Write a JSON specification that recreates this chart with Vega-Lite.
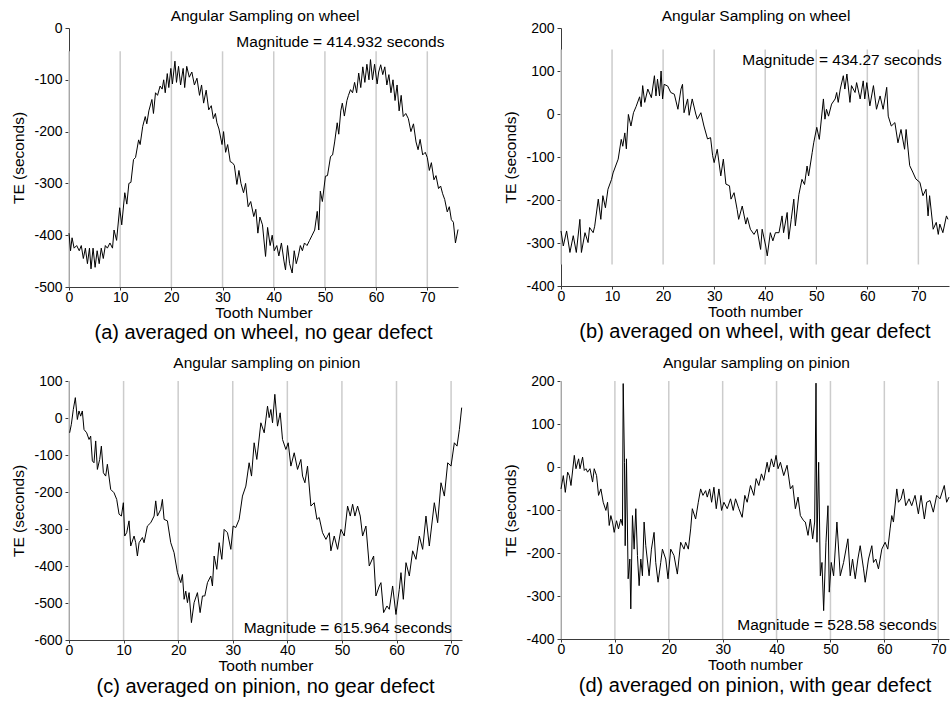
{
"$schema": "https://vega.github.io/schema/vega-lite/v6.json",
"background": "white",
"padding": {"left": 11, "top": 8, "right": 0, "bottom": 0},
"columns": 2,
"spacing": {"row": 12, "column": 39},
"concat": [
{
 "title": {"text": "Angular Sampling on wheel", "anchor": "middle", "dx": 29, "fontSize": 15.5, "offset": -3},
 "vconcat": [{
  "width": 389, "height": 259,
  "title": {"text": "(a) averaged on wheel, no gear defect", "orient": "bottom", "anchor": "middle", "frame": "group", "fontSize": 20, "offset": 2},
  "encoding": {
   "x": {"field": "x", "type": "quantitative", "scale": {"domain": [0, 76], "nice": false, "zero": false}, "axis": {"title": "Tooth Number", "values": [0,10,20,30,40,50,60,70]}},
   "y": {"field": "y", "type": "quantitative", "scale": {"domain": [-500, 0], "nice": false, "zero": false}, "axis": {"title": "TE (seconds)", "values": [-500,-400,-300,-200,-100,0]}}
  },
  "layer": [
   {"data": {"name": "ra"}, "mark": {"type": "rule", "color": "#cccccc", "strokeWidth": 1.5}, "encoding": {"y2": {"field": "y2"}}},
   {"data": {"name": "a"}, "mark": {"type": "line", "color": "#000000", "strokeWidth": 1}, "encoding": {}},
   {"data": {"values": [{"x": 32.7, "y": -27, "label": "Magnitude = 414.932 seconds"}]}, "mark": {"type": "text", "align": "left", "baseline": "middle", "fontSize": 15.5}, "encoding": {"text": {"field": "label"}}}
  ]
 }]
},
{
 "title": {"text": "Angular Sampling on wheel", "anchor": "middle", "dx": 29, "fontSize": 15.5, "offset": -3},
 "vconcat": [{
  "width": 388, "height": 258,
  "title": {"text": "(b) averaged on wheel, with gear defect", "orient": "bottom", "anchor": "middle", "frame": "group", "fontSize": 20, "offset": 2},
  "encoding": {
   "x": {"field": "x", "type": "quantitative", "scale": {"domain": [0, 76], "nice": false, "zero": false}, "axis": {"title": "Tooth number", "values": [0,10,20,30,40,50,60,70]}},
   "y": {"field": "y", "type": "quantitative", "scale": {"domain": [-400, 200], "nice": false, "zero": false}, "axis": {"title": "TE  (seconds)", "values": [-400,-300,-200,-100,0,100,200]}}
  },
  "layer": [
   {"data": {"name": "rb"}, "mark": {"type": "rule", "color": "#cccccc", "strokeWidth": 1.5}, "encoding": {"y2": {"field": "y2"}}},
   {"data": {"name": "b"}, "mark": {"type": "line", "color": "#000000", "strokeWidth": 1}, "encoding": {}},
   {"data": {"values": [{"x": 35.5, "y": 125.5, "label": "Magnitude = 434.27 seconds"}]}, "mark": {"type": "text", "align": "left", "baseline": "middle", "fontSize": 15.5}, "encoding": {"text": {"field": "label"}}}
  ]
 }]
},
{
 "title": {"text": "Angular sampling on pinion", "anchor": "middle", "dx": 29, "fontSize": 15.5, "offset": 3},
 "vconcat": [{
  "width": 393, "height": 259,
  "title": {"text": "(c) averaged on pinion, no gear defect", "orient": "bottom", "anchor": "middle", "frame": "group", "fontSize": 20, "offset": 3},
  "encoding": {
   "x": {"field": "x", "type": "quantitative", "scale": {"domain": [0, 72], "nice": false, "zero": false}, "axis": {"title": "Tooth number", "values": [0,10,20,30,40,50,60,70]}},
   "y": {"field": "y", "type": "quantitative", "scale": {"domain": [-600, 100], "nice": false, "zero": false}, "axis": {"title": "TE  (seconds)", "values": [-600,-500,-400,-300,-200,-100,0,100]}}
  },
  "layer": [
   {"data": {"name": "rc"}, "mark": {"type": "rule", "color": "#cccccc", "strokeWidth": 1.5}, "encoding": {"y2": {"field": "y2"}}},
   {"data": {"name": "c"}, "mark": {"type": "line", "color": "#000000", "strokeWidth": 1}, "encoding": {}},
   {"data": {"values": [{"x": 32.0, "y": -567, "label": "Magnitude = 615.964 seconds"}]}, "mark": {"type": "text", "align": "left", "baseline": "middle", "fontSize": 15.5}, "encoding": {"text": {"field": "label"}}}
  ]
 }]
},
{
 "title": {"text": "Angular sampling on pinion", "anchor": "middle", "dx": 29, "fontSize": 15.5, "offset": 3},
 "vconcat": [{
  "width": 388, "height": 258,
  "title": {"text": "(d) averaged on pinion, with gear defect", "orient": "bottom", "anchor": "middle", "frame": "group", "fontSize": 20, "offset": 3},
  "encoding": {
   "x": {"field": "x", "type": "quantitative", "scale": {"domain": [0, 72], "nice": false, "zero": false}, "axis": {"title": "Tooth number", "values": [0,10,20,30,40,50,60,70]}},
   "y": {"field": "y", "type": "quantitative", "scale": {"domain": [-400, 200], "nice": false, "zero": false}, "axis": {"title": "TE  (seconds)", "values": [-400,-300,-200,-100,0,100,200]}}
  },
  "layer": [
   {"data": {"name": "rd"}, "mark": {"type": "rule", "color": "#cccccc", "strokeWidth": 1.5}, "encoding": {"y2": {"field": "y2"}}},
   {"data": {"name": "d"}, "mark": {"type": "line", "color": "#000000", "strokeWidth": 1}, "encoding": {}},
   {"data": {"values": [{"x": 32.7, "y": -367, "label": "Magnitude = 528.58 seconds"}]}, "mark": {"type": "text", "align": "left", "baseline": "middle", "fontSize": 15.5}, "encoding": {"text": {"field": "label"}}}
  ]
 }]
}
],
"datasets": {
"ra": [{"x":0,"y":-500,"y2":-45},{"x":10,"y":-500,"y2":-45},{"x":20,"y":-500,"y2":-45},{"x":30,"y":-500,"y2":-45},{"x":40,"y":-500,"y2":-45},{"x":50,"y":-500,"y2":-45},{"x":60,"y":-500,"y2":-45},{"x":70,"y":-500,"y2":-45}],
"rb": [{"x":0,"y":-350,"y2":150},{"x":10,"y":-350,"y2":150},{"x":20,"y":-350,"y2":150},{"x":30,"y":-350,"y2":150},{"x":40,"y":-350,"y2":150},{"x":50,"y":-350,"y2":150},{"x":60,"y":-350,"y2":150},{"x":70,"y":-350,"y2":150}],
"rc": [{"x":0,"y":-600,"y2":100},{"x":10,"y":-600,"y2":100},{"x":20,"y":-600,"y2":100},{"x":30,"y":-600,"y2":100},{"x":40,"y":-600,"y2":100},{"x":50,"y":-600,"y2":100},{"x":60,"y":-600,"y2":100},{"x":70,"y":-600,"y2":100}],
"rd": [{"x":0,"y":-400,"y2":200},{"x":10,"y":-400,"y2":200},{"x":20,"y":-400,"y2":200},{"x":30,"y":-400,"y2":200},{"x":40,"y":-400,"y2":200},{"x":50,"y":-400,"y2":200},{"x":60,"y":-400,"y2":200},{"x":70,"y":-400,"y2":200}],
"a": [
{"x":0,"y":-396},{"x":0.3,"y":-430},{"x":0.6,"y":-405},{"x":1,"y":-425},{"x":1.5,"y":-420},{"x":2,"y":-430},{"x":2.4,"y":-420},{"x":2.8,"y":-445},{"x":3.2,"y":-425},{"x":3.6,"y":-455},{"x":4.0,"y":-425},{"x":4.3,"y":-465},{"x":4.7,"y":-425},{"x":5.1,"y":-462},{"x":5.5,"y":-430},{"x":5.9,"y":-455},{"x":6.3,"y":-425},{"x":6.7,"y":-445},{"x":7.1,"y":-420},{"x":7.5,"y":-425},{"x":8.0,"y":-415},{"x":8.5,"y":-425},{"x":8.8,"y":-390},{"x":9.3,"y":-410},{"x":9.9,"y":-347},{"x":10.3,"y":-380},{"x":10.9,"y":-318},{"x":11.3,"y":-340},{"x":11.7,"y":-300},{"x":12.1,"y":-298},{"x":12.6,"y":-254},{"x":13.0,"y":-250},{"x":13.6,"y":-216},{"x":13.9,"y":-225},{"x":14.4,"y":-190},{"x":14.9,"y":-171},{"x":15.2,"y":-185},{"x":15.6,"y":-160},{"x":16.2,"y":-138},{"x":16.5,"y":-165},{"x":16.9,"y":-125},{"x":17.3,"y":-130},{"x":17.8,"y":-112},{"x":18.2,"y":-118},{"x":18.5,"y":-100},{"x":18.8,"y":-125},{"x":19.2,"y":-88},{"x":19.5,"y":-115},{"x":19.9,"y":-78},{"x":20.2,"y":-108},{"x":20.7,"y":-64},{"x":21.0,"y":-105},{"x":21.4,"y":-74},{"x":21.8,"y":-110},{"x":22.3,"y":-78},{"x":22.6,"y":-115},{"x":23.0,"y":-74},{"x":23.5,"y":-95},{"x":24.0,"y":-85},{"x":24.5,"y":-110},{"x":25.0,"y":-97},{"x":25.5,"y":-130},{"x":25.9,"y":-110},{"x":26.3,"y":-145},{"x":26.8,"y":-120},{"x":27.3,"y":-158},{"x":27.8,"y":-150},{"x":28.2,"y":-175},{"x":28.6,"y":-165},{"x":28.9,"y":-183},{"x":29.3,"y":-195},{"x":29.9,"y":-225},{"x":30.2,"y":-200},{"x":30.6,"y":-240},{"x":31.0,"y":-225},{"x":31.5,"y":-258},{"x":31.9,"y":-260},{"x":32.3,"y":-265},{"x":32.8,"y":-302},{"x":33.2,"y":-275},{"x":33.6,"y":-300},{"x":34.1,"y":-318},{"x":34.5,"y":-300},{"x":35.0,"y":-345},{"x":35.5,"y":-335},{"x":36.1,"y":-364},{"x":36.5,"y":-350},{"x":36.9,"y":-396},{"x":37.3,"y":-365},{"x":37.8,"y":-380},{"x":38.4,"y":-441},{"x":38.8,"y":-385},{"x":39.3,"y":-420},{"x":39.7,"y":-400},{"x":40.1,"y":-430},{"x":40.6,"y":-420},{"x":41.0,"y":-440},{"x":41.5,"y":-415},{"x":42.0,"y":-450},{"x":42.3,"y":-467},{"x":42.7,"y":-420},{"x":43.1,"y":-455},{"x":43.6,"y":-473},{"x":44.0,"y":-430},{"x":44.4,"y":-455},{"x":44.8,"y":-440},{"x":45.2,"y":-420},{"x":45.6,"y":-430},{"x":46.0,"y":-415},{"x":46.5,"y":-420},{"x":47.0,"y":-410},{"x":47.5,"y":-400},{"x":48.0,"y":-390},{"x":48.5,"y":-354},{"x":48.8,"y":-390},{"x":49.1,"y":-315},{"x":49.5,"y":-335},{"x":50.1,"y":-286},{"x":50.5,"y":-285},{"x":51.1,"y":-248},{"x":51.5,"y":-245},{"x":51.9,"y":-220},{"x":52.4,"y":-183},{"x":52.7,"y":-205},{"x":53.1,"y":-160},{"x":53.4,"y":-145},{"x":53.8,"y":-170},{"x":54.3,"y":-140},{"x":54.6,"y":-130},{"x":55.0,"y":-119},{"x":55.4,"y":-125},{"x":55.8,"y":-105},{"x":56.2,"y":-125},{"x":56.6,"y":-87},{"x":57.0,"y":-115},{"x":57.4,"y":-75},{"x":57.8,"y":-105},{"x":58.2,"y":-70},{"x":58.6,"y":-100},{"x":58.9,"y":-61},{"x":59.3,"y":-100},{"x":59.7,"y":-70},{"x":60.2,"y":-108},{"x":60.5,"y":-85},{"x":60.9,"y":-71},{"x":61.3,"y":-90},{"x":61.7,"y":-75},{"x":62.1,"y":-110},{"x":62.5,"y":-90},{"x":62.9,"y":-125},{"x":63.3,"y":-100},{"x":63.7,"y":-140},{"x":64.1,"y":-110},{"x":64.5,"y":-160},{"x":64.9,"y":-130},{"x":65.3,"y":-171},{"x":65.8,"y":-165},{"x":66.3,"y":-175},{"x":66.8,"y":-200},{"x":67.3,"y":-185},{"x":67.8,"y":-220},{"x":68.2,"y":-235},{"x":68.6,"y":-215},{"x":69.1,"y":-245},{"x":69.6,"y":-240},{"x":70.0,"y":-250},{"x":70.4,"y":-275},{"x":70.8,"y":-260},{"x":71.3,"y":-293},{"x":71.7,"y":-285},{"x":72.2,"y":-310},{"x":72.6,"y":-305},{"x":73.0,"y":-320},{"x":73.4,"y":-331},{"x":73.9,"y":-355},{"x":74.3,"y":-345},{"x":74.7,"y":-370},{"x":75.1,"y":-375},{"x":75.5,"y":-415},{"x":76.0,"y":-389}
],
"b": [
{"x":0,"y":-272},{"x":0.45,"y":-307},{"x":1.1,"y":-272},{"x":1.75,"y":-322},{"x":2.4,"y":-283},{"x":3.0,"y":-322},{"x":3.7,"y":-245},{"x":4.0,"y":-322},{"x":4.7,"y":-276},{"x":5.3,"y":-299},{"x":5.6,"y":-264},{"x":6.3,"y":-276},{"x":6.6,"y":-261},{"x":7.3,"y":-198},{"x":7.8,"y":-245},{"x":8.2,"y":-190},{"x":8.7,"y":-218},{"x":9.2,"y":-175},{"x":9.9,"y":-152},{"x":10.2,"y":-137},{"x":11.2,"y":-105},{"x":11.8,"y":-59},{"x":12.1,"y":-75},{"x":12.5,"y":-44},{"x":12.8,"y":-81},{"x":13.2,"y":-1},{"x":13.7,"y":-28},{"x":14.2,"y":3},{"x":14.7,"y":17},{"x":15.4,"y":40},{"x":15.7,"y":17},{"x":16.0,"y":66},{"x":16.4,"y":27},{"x":17.0,"y":58},{"x":17.7,"y":38},{"x":18.3,"y":89},{"x":18.6,"y":42},{"x":18.9,"y":81},{"x":19.3,"y":42},{"x":19.6,"y":100},{"x":19.9,"y":35},{"x":20.2,"y":69},{"x":20.9,"y":65},{"x":21.5,"y":50},{"x":22.2,"y":46},{"x":22.9,"y":11},{"x":23.5,"y":58},{"x":23.8,"y":69},{"x":24.1,"y":3},{"x":24.8,"y":35},{"x":25.1,"y":-3},{"x":25.7,"y":35},{"x":26.4,"y":0},{"x":26.7,"y":-12},{"x":27.4,"y":3},{"x":28.0,"y":-28},{"x":28.7,"y":-58},{"x":29.3,"y":-55},{"x":29.7,"y":-97},{"x":30.0,"y":-113},{"x":30.6,"y":-82},{"x":31.3,"y":-144},{"x":31.8,"y":-105},{"x":32.3,"y":-163},{"x":33.0,"y":-167},{"x":33.3,"y":-198},{"x":33.9,"y":-183},{"x":34.5,"y":-222},{"x":34.8,"y":-245},{"x":35.5,"y":-214},{"x":36.2,"y":-256},{"x":36.5,"y":-241},{"x":37.1,"y":-268},{"x":37.8,"y":-280},{"x":38.4,"y":-268},{"x":39.1,"y":-315},{"x":39.4,"y":-268},{"x":40.1,"y":-307},{"x":40.4,"y":-330},{"x":41.0,"y":-276},{"x":41.5,"y":-295},{"x":42.0,"y":-276},{"x":42.7,"y":-276},{"x":43.3,"y":-237},{"x":43.6,"y":-276},{"x":44.3,"y":-229},{"x":44.6,"y":-291},{"x":45.1,"y":-245},{"x":45.6,"y":-198},{"x":45.9,"y":-260},{"x":46.6,"y":-187},{"x":47.2,"y":-152},{"x":47.7,"y":-164},{"x":48.2,"y":-121},{"x":48.5,"y":-144},{"x":49.2,"y":-90},{"x":49.5,"y":-67},{"x":50.1,"y":-31},{"x":50.6,"y":-59},{"x":51.1,"y":0},{"x":51.4,"y":35},{"x":51.7,"y":-12},{"x":52.0,"y":11},{"x":52.4,"y":-5},{"x":53.0,"y":23},{"x":53.7,"y":35},{"x":54.0,"y":50},{"x":54.3,"y":27},{"x":54.7,"y":58},{"x":55.3,"y":89},{"x":55.6,"y":58},{"x":56.0,"y":93},{"x":56.6,"y":27},{"x":56.9,"y":66},{"x":57.6,"y":50},{"x":57.9,"y":73},{"x":58.6,"y":35},{"x":59.2,"y":77},{"x":59.5,"y":35},{"x":59.9,"y":73},{"x":60.5,"y":19},{"x":61.2,"y":66},{"x":61.8,"y":11},{"x":62.5,"y":42},{"x":63.1,"y":11},{"x":63.8,"y":62},{"x":64.1,"y":-5},{"x":64.7,"y":-28},{"x":65.4,"y":-20},{"x":66.0,"y":-67},{"x":66.6,"y":-36},{"x":67.3,"y":-82},{"x":67.6,"y":-36},{"x":68.3,"y":-120},{"x":68.9,"y":-135},{"x":69.5,"y":-151},{"x":70.3,"y":-159},{"x":70.9,"y":-190},{"x":71.5,"y":-175},{"x":71.9,"y":-237},{"x":72.2,"y":-190},{"x":72.9,"y":-268},{"x":73.5,"y":-252},{"x":73.9,"y":-280},{"x":74.2,"y":-256},{"x":74.8,"y":-276},{"x":75.5,"y":-237},{"x":75.8,"y":-245}
],
"c": [
{"x":0.12,"y":-40},{"x":0.43,"y":-17},{"x":0.79,"y":23},{"x":1.16,"y":55},{"x":1.53,"y":-4},{"x":1.83,"y":19},{"x":2.14,"y":5},{"x":2.44,"y":19},{"x":2.75,"y":-31},{"x":3.24,"y":-40},{"x":3.67,"y":-58},{"x":3.97,"y":-49},{"x":4.28,"y":-116},{"x":4.58,"y":-121},{"x":4.89,"y":-62},{"x":5.2,"y":-139},{"x":5.62,"y":-112},{"x":5.93,"y":-76},{"x":6.3,"y":-148},{"x":6.72,"y":-157},{"x":7.03,"y":-125},{"x":7.64,"y":-193},{"x":8.25,"y":-202},{"x":8.74,"y":-220},{"x":9.17,"y":-260},{"x":9.6,"y":-265},{"x":9.96,"y":-229},{"x":10.21,"y":-319},{"x":10.57,"y":-310},{"x":11.0,"y":-278},{"x":11.31,"y":-346},{"x":11.92,"y":-319},{"x":12.22,"y":-337},{"x":12.53,"y":-373},{"x":12.84,"y":-337},{"x":13.45,"y":-323},{"x":13.75,"y":-337},{"x":14.36,"y":-292},{"x":14.98,"y":-283},{"x":15.59,"y":-265},{"x":15.89,"y":-224},{"x":16.2,"y":-265},{"x":16.81,"y":-247},{"x":17.11,"y":-220},{"x":17.42,"y":-274},{"x":18.03,"y":-278},{"x":18.64,"y":-337},{"x":19.25,"y":-364},{"x":19.87,"y":-418},{"x":20.48,"y":-445},{"x":20.78,"y":-423},{"x":21.09,"y":-490},{"x":21.39,"y":-468},{"x":21.7,"y":-499},{"x":22.0,"y":-472},{"x":22.43,"y":-553},{"x":22.92,"y":-499},{"x":23.53,"y":-472},{"x":24.02,"y":-526},{"x":24.45,"y":-481},{"x":24.88,"y":-481},{"x":25.37,"y":-445},{"x":25.98,"y":-427},{"x":26.28,"y":-454},{"x":26.59,"y":-373},{"x":27.08,"y":-409},{"x":27.51,"y":-337},{"x":28.0,"y":-382},{"x":28.42,"y":-301},{"x":29.03,"y":-310},{"x":29.65,"y":-355},{"x":30.07,"y":-292},{"x":30.56,"y":-296},{"x":31.17,"y":-274},{"x":31.78,"y":-211},{"x":32.4,"y":-184},{"x":33.0,"y":-121},{"x":33.44,"y":-157},{"x":33.92,"y":-67},{"x":34.41,"y":-112},{"x":35.15,"y":-13},{"x":35.76,"y":-40},{"x":36.37,"y":32},{"x":36.67,"y":1},{"x":36.98,"y":23},{"x":37.29,"y":-13},{"x":37.71,"y":64},{"x":38.2,"y":-22},{"x":38.69,"y":14},{"x":39.12,"y":-58},{"x":39.73,"y":-85},{"x":40.16,"y":-67},{"x":40.65,"y":-130},{"x":41.26,"y":-94},{"x":41.87,"y":-139},{"x":42.48,"y":-112},{"x":42.79,"y":-157},{"x":43.22,"y":-175},{"x":43.7,"y":-130},{"x":44.32,"y":-238},{"x":44.93,"y":-229},{"x":45.42,"y":-274},{"x":45.84,"y":-269},{"x":46.45,"y":-310},{"x":47.07,"y":-328},{"x":47.68,"y":-310},{"x":47.98,"y":-359},{"x":48.59,"y":-319},{"x":49.21,"y":-355},{"x":49.82,"y":-301},{"x":50.43,"y":-319},{"x":51.04,"y":-238},{"x":51.53,"y":-265},{"x":51.96,"y":-233},{"x":52.38,"y":-265},{"x":52.87,"y":-238},{"x":53.36,"y":-265},{"x":53.79,"y":-319},{"x":54.4,"y":-292},{"x":55.01,"y":-400},{"x":55.81,"y":-373},{"x":56.23,"y":-481},{"x":56.85,"y":-454},{"x":57.15,"y":-445},{"x":57.64,"y":-526},{"x":58.25,"y":-508},{"x":58.68,"y":-517},{"x":59.29,"y":-454},{"x":59.9,"y":-531},{"x":60.51,"y":-463},{"x":60.82,"y":-418},{"x":61.25,"y":-490},{"x":61.74,"y":-391},{"x":62.35,"y":-427},{"x":62.96,"y":-359},{"x":63.57,"y":-382},{"x":64.18,"y":-319},{"x":64.79,"y":-355},{"x":65.4,"y":-265},{"x":66.01,"y":-346},{"x":66.93,"y":-229},{"x":67.54,"y":-283},{"x":68.15,"y":-175},{"x":68.77,"y":-211},{"x":69.38,"y":-121},{"x":69.99,"y":-130},{"x":70.6,"y":-67},{"x":71.09,"y":-76},{"x":71.52,"y":-31},{"x":71.94,"y":28}
],
"d": [
{"x":0,"y":-51},{"x":0.43,"y":-20},{"x":0.8,"y":-59},{"x":1.23,"y":-12},{"x":1.54,"y":-20},{"x":1.85,"y":-43},{"x":2.47,"y":27},{"x":2.78,"y":-4},{"x":3.27,"y":19},{"x":3.52,"y":-4},{"x":4.01,"y":23},{"x":4.32,"y":-8},{"x":4.63,"y":-4},{"x":4.94,"y":-12},{"x":5.37,"y":-4},{"x":5.86,"y":-35},{"x":6.17,"y":-4},{"x":6.6,"y":-20},{"x":6.97,"y":-66},{"x":7.4,"y":-51},{"x":7.83,"y":-82},{"x":8.33,"y":-101},{"x":8.64,"y":-82},{"x":8.95,"y":-136},{"x":9.25,"y":-113},{"x":9.56,"y":-128},{"x":9.87,"y":-152},{"x":10.3,"y":-125},{"x":10.67,"y":-144},{"x":11.1,"y":-121},{"x":11.41,"y":-136},{"x":11.54,"y":194},{"x":11.78,"y":11},{"x":11.91,"y":-183},{"x":12.15,"y":19},{"x":12.46,"y":-260},{"x":12.77,"y":-214},{"x":12.95,"y":-330},{"x":13.26,"y":-113},{"x":13.57,"y":-191},{"x":13.88,"y":-97},{"x":14.19,"y":-206},{"x":14.5,"y":-276},{"x":14.81,"y":-214},{"x":15.11,"y":-253},{"x":15.42,"y":-128},{"x":15.73,"y":-183},{"x":16.35,"y":-253},{"x":16.78,"y":-191},{"x":17.27,"y":-152},{"x":17.58,"y":-222},{"x":18.01,"y":-268},{"x":18.51,"y":-222},{"x":18.82,"y":-191},{"x":19.43,"y":-214},{"x":19.86,"y":-260},{"x":20.36,"y":-191},{"x":20.97,"y":-206},{"x":21.59,"y":-249},{"x":22.21,"y":-175},{"x":22.83,"y":-191},{"x":23.13,"y":-175},{"x":23.63,"y":-191},{"x":24.06,"y":-144},{"x":24.37,"y":-97},{"x":24.98,"y":-121},{"x":25.48,"y":-82},{"x":25.91,"y":-51},{"x":26.34,"y":-66},{"x":26.84,"y":-55},{"x":27.14,"y":-70},{"x":27.58,"y":-51},{"x":27.95,"y":-82},{"x":28.38,"y":-47},{"x":28.81,"y":-97},{"x":29.3,"y":-51},{"x":29.8,"y":-101},{"x":30.23,"y":-82},{"x":30.85,"y":-97},{"x":31.46,"y":-74},{"x":31.96,"y":-101},{"x":32.39,"y":-74},{"x":33.0,"y":-97},{"x":33.62,"y":-117},{"x":34.11,"y":-66},{"x":34.55,"y":-82},{"x":35.16,"y":-43},{"x":35.78,"y":-66},{"x":36.21,"y":-27},{"x":36.71,"y":-43},{"x":37.2,"y":-16},{"x":37.63,"y":-31},{"x":38.25,"y":11},{"x":38.56,"y":-12},{"x":39.05,"y":19},{"x":39.48,"y":0},{"x":39.91,"y":27},{"x":40.28,"y":-4},{"x":40.72,"y":11},{"x":41.33,"y":-20},{"x":41.95,"y":4},{"x":42.57,"y":-51},{"x":43.0,"y":-43},{"x":43.49,"y":-97},{"x":43.99,"y":-70},{"x":44.42,"y":-113},{"x":45.03,"y":-125},{"x":45.34,"y":-128},{"x":45.84,"y":-159},{"x":46.27,"y":-121},{"x":46.7,"y":-167},{"x":47.07,"y":-128},{"x":47.32,"y":195},{"x":47.5,"y":-175},{"x":47.81,"y":11},{"x":48.12,"y":-253},{"x":48.43,"y":-222},{"x":48.74,"y":-334},{"x":49.17,"y":-175},{"x":49.54,"y":-90},{"x":49.78,"y":-291},{"x":50.15,"y":-222},{"x":50.59,"y":-253},{"x":51.2,"y":-128},{"x":51.82,"y":-253},{"x":52.44,"y":-222},{"x":53.24,"y":-167},{"x":53.67,"y":-253},{"x":54.1,"y":-214},{"x":54.6,"y":-260},{"x":55.09,"y":-214},{"x":55.52,"y":-183},{"x":56.14,"y":-237},{"x":56.45,"y":-268},{"x":57.06,"y":-214},{"x":57.68,"y":-183},{"x":57.99,"y":-222},{"x":58.42,"y":-214},{"x":58.91,"y":-237},{"x":59.53,"y":-191},{"x":60.15,"y":-175},{"x":60.64,"y":-191},{"x":61.07,"y":-144},{"x":61.38,"y":-113},{"x":61.69,"y":-128},{"x":62.31,"y":-51},{"x":62.62,"y":-82},{"x":63.11,"y":-74},{"x":63.54,"y":-51},{"x":63.97,"y":-90},{"x":64.59,"y":-74},{"x":65.08,"y":-90},{"x":65.7,"y":-66},{"x":66.32,"y":-109},{"x":66.81,"y":-66},{"x":67.43,"y":-121},{"x":67.86,"y":-82},{"x":68.48,"y":-78},{"x":69.09,"y":-105},{"x":69.71,"y":-66},{"x":70.33,"y":-74},{"x":71.13,"y":-43},{"x":71.56,"y":-82},{"x":72,"y":-70}
]
},
"config": {
 "font": "Liberation Sans",
 "view": {"stroke": null},
 "axis": {"grid": false, "domainColor": "#3a3a3a", "domainWidth": 1, "tickColor": "#3a3a3a", "labelColor": "#000000", "titleColor": "#000000", "labelFontSize": 14, "titleFontSize": 15.5, "titleFontWeight": "normal", "labelFont": "Liberation Sans", "titleFont": "Liberation Sans", "zindex": 0, "labelExpr": "'' + datum.value"},
 "axisX": {"tickSize": 3, "labelPadding": 0, "titlePadding": 1, "labelFlush": false, "labelOverlap": false},
 "axisY": {"tickSize": 4, "labelPadding": 3, "titlePadding": 7, "labelOverlap": false},
 "title": {"fontWeight": "normal", "color": "#000000", "font": "Liberation Sans"},
 "text": {"font": "Liberation Sans", "color": "#000000"}
}
}
